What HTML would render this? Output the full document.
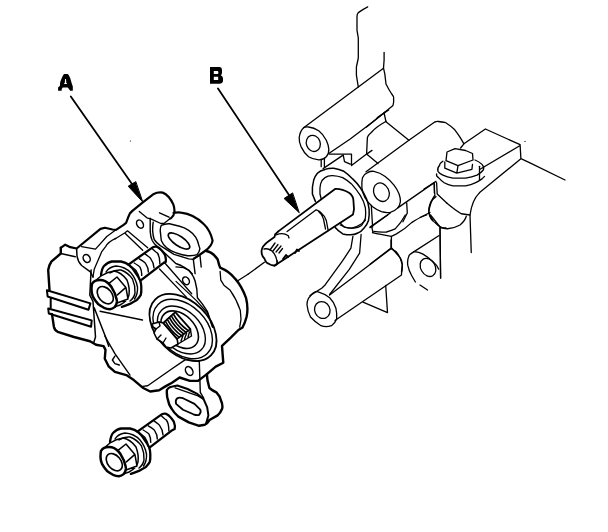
<!DOCTYPE html>
<html><head><meta charset="utf-8">
<style>
html,body{margin:0;padding:0;background:#fff;width:608px;height:532px;overflow:hidden}
svg{display:block}
text{font-family:"Liberation Sans",sans-serif;font-weight:bold}
</style></head>
<body>
<svg width="608" height="532" viewBox="0 0 608 532">
<defs>
<g id="bolt" fill="none" stroke="#000" stroke-linejoin="round" stroke-linecap="round">
  <!-- shank -->
  <path stroke-width="2.3" d="M137.4,431.6 L160.6,415.1 Q163,413 166.4,413.9 Q170.5,416 173.8,421.7 Q175.5,426 174.6,429.1 L171.3,430.8 L149.8,447.3"/>
  <path stroke-width="1.4" d="M160.6,415.1 Q165.5,420 166.4,420 Q169,424 168.8,430.8 M154,420.9 Q159.8,425 159.8,425.8 Q163,430 163,434.9 M148.2,425.8 Q154,429 154.8,430.8 Q157.5,435 157.3,439 M143.2,430 Q148,433 149,434.1 Q151,438 150.7,442.4 M139.1,433.3 Q144,436 144.9,437.4 Q148,442 148.2,446.5"/>
  <!-- washer -->
  <path stroke-width="2.3" d="M110,442 Q111,435 113,433 Q117,429 121,428.5 L130,428.5 Q135,429.5 138,432 Q142,435 144,439 Q147,443 149,447 Q150.5,451 150.3,454 Q150.5,459 149.8,461.9 Q148,465 145.9,466.9 Q142,469 138.9,470.9 Q134,473 130.9,473.9"/>
  <path stroke-width="1.4" d="M115,439 Q118,434 125,433 Q134,433.5 140,440 Q145,446 146.5,454 Q147,461 143.5,466 M119,440 Q124,436.5 130,437 Q137,439.5 141.5,446 Q144.5,453 144,460 Q143,465 139,468"/>
  <!-- hex head -->
  <path stroke-width="1.5" d="M104,448 L110,443 Q116,439 123,438 Q130,439 136,447 Q139,455 138,462 Q137,468 129,472 L123.9,473.9 M118,450.4 L126,444 L134.9,454.4 L126.4,461.9 M134.9,454.4 L137,466 L126,470"/>
  <path stroke-width="2.5" d="M101,450.9 Q102.5,448.5 104,448 Q106,447 109,447 Q112,447 114,448 Q116.5,449.5 118,451 Q120.5,453.5 122,456.9 Q124,460 124.9,463.9 Q126,466.5 125.9,468.9 Q125.5,472 123.9,473.9 Q121.5,476 118.9,476.3 Q116,476 113,474.8 Q110,473 107,470.9 Q104,467.5 102,463.9 Q100.5,460 100.5,456.9 Q100.5,453 101,450.9 Z"/>
  <ellipse stroke-width="1.6" cx="114.3" cy="462.2" rx="9.8" ry="6.6" transform="rotate(50 114.3 462.2)"/>
</g>
</defs>

<!-- labels -->
<path fill="#000" fill-rule="evenodd" d="M64.1,73.9 L67.8,73.9 L68.8,75.3 L70.2,77.9 L70.9,80.5 L72,84.2 L72.8,86.3 L72.8,90.8 L70.2,90.8 L67.8,87.4 L62.8,87.4 L61.7,88.9 L61.7,90.8 L58.1,90.8 L58.1,87.4 L59.9,85.8 L60.2,82.1 L62,77.4 L63.1,75.3 Z M65.1,79 L66,79 L66.3,82.8 L67.2,83.9 L63.8,83.9 L64.8,82.8 Z"/>
<path fill="#000" fill-rule="evenodd" d="M210,67 L220,67 Q222,67.5 222,70 L222,72.5 Q222,74.5 220.8,75.2 Q223,76 223,78.5 L223,81 Q222.5,83.7 219.5,83.7 L210,83.7 Z M213.8,70.9 L217.6,70.9 Q218.4,71.2 218.4,72.4 Q218.4,73.9 217.5,73.9 L213.8,73.9 Z M213.8,76.8 L218.2,76.8 L218.2,80.1 L213.8,80.1 Z"/>

<g fill="none" stroke="#000" stroke-linejoin="round" stroke-linecap="round">
<!-- arrows -->
<path stroke-width="1.8" d="M70.8,96.5 L132,184"/>
<path fill="#000" stroke-width="1" d="M142.6,201.8 L128.2,186.2 L135.5,181.8 Z"/>
<path stroke-width="1.8" d="M218,88.5 L289,195"/>
<path fill="#000" stroke-width="1" d="M299,212.5 L284.1,198.5 L292.3,193.1 Z"/>
<circle cx="130.4" cy="141" r="0.6" fill="#000" stroke="none"/>

<!-- ===== SENSOR (A) ===== -->
<!-- outer silhouette -->
<path stroke-width="2.2" d="M60.8,247.8 L65.2,244.7 L70.3,247.2 L76.6,248.5 L100.5,228.9 L105,227.7 L112.5,229.5 L116,229.8 L123.6,224.8 L126.1,222.9 L128,217.8 L129.9,213.4 L132.4,210.9 L142.5,202.7 L153.8,193.9 Q157.6,192 162.7,192.6 Q169,195 173.4,204.6 Q175.5,211 173.4,215.3 Q171,218.5 170.2,218.5
 M173.5,213 Q177,212 181,212.6 Q193.7,214 203.7,224 Q210,230 212.6,240.4 Q212,246 205,251 L198.7,255.5 L193.7,258.6"/>
<path stroke-width="2.4" d="M206.3,251 Q212.6,252 217.6,259.3 Q219,265 220.1,267.6 Q229,271 235.3,278.9 Q241.6,286 246,297.8 Q248.5,308 246.6,316.7 Q245,323 242.5,327.5 L238.4,330 L230.8,337.6 L222,345.8 L222.6,354 L223.3,362.8 L215.7,366.6 L206.9,374.1 L207.5,380.4 L209.4,388 Q213,391 216.4,392.4 Q220,396 221,400.5 Q223,405 222.2,408.5 Q220.5,413 217.6,415.4 L209.5,420 Q207,424 204.9,424.7 L199.1,425.8 L188.8,422.4 L178.4,416.6 Q174,413 171.5,408.5 Q168.5,404 168.1,400.5 Q166.5,396 166.9,390.1"/>
<path stroke-width="2.4" d="M206.9,374.1 L198,380.9 L189.9,380.9 L179.6,377.5 L172,382.7 L165.4,386.4 L159.1,390.2 L150.2,391.5 L142.7,387.7 L133.8,380.1 L126.3,375.1 L114.9,371.9 L108.6,366.3 L104.8,358.7 L105.5,349.9 L103.6,346.1 L96,344.8 L90,341.25 L74,337 L57.7,331.8 Q54.5,330 53.9,326.7 L52,314.1 M48.2,270 L49.5,290.2 M48.2,270 Q49,265 51.3,261.7 L60.8,253.5 L60.8,247.8"/>
<!-- connector internal -->
<path stroke-width="1.5" d="M60.8,253.5 L75.3,256.7 M76.6,248.5 L77,256 Q78,262 81.6,265.5 L90.4,271.8 L93,277"/>
<path stroke-width="2" d="M46.9,290.2 L90.4,303.4 L88.5,309.7 L47.6,296.5 Z M48.2,308.5 L91.7,320.4 L91.1,326.7 L48.8,313.5 Z M50.7,298.4 L50.7,307.8 M52,314.1 L48.8,313.5"/>
<path stroke-width="1.5" d="M91.1,270 L89.8,295.2 L93,301.5 L95.5,337 L93.75,342.5 M94.2,307.8 L105.6,337 L108.75,346.25"/>
<path stroke-width="1.3" d="M81.6,246.6 L95.5,249.1 L106.8,236.5 L116,229.8 M101.8,251.6 L94.2,269.3 L93,277 M115.7,238.4 Q108,242 105.6,246.6 L101.8,251.6"/>
<ellipse stroke-width="1.5" cx="86.7" cy="258.5" rx="3.3" ry="4.2" transform="rotate(-30 86.7 258.5)"/>
<!-- upper ear & boss internal -->
<path stroke-width="1.3" d="M159.5,212.8 L169,217.2 M139.3,211.5 L146.9,217.8 L151.3,219.1 L160.8,223.5 L163.9,223.5 L170.2,218.5"/>
<ellipse stroke-width="1.5" cx="140" cy="224.1" rx="3.1" ry="4.4" transform="rotate(-30 140 224.1)"/>

<path stroke-width="1.3" d="M114.9,239 L125,232.7 L127.5,230.8 L147.7,247.8 M125,233.3 L142.7,250.3"/>
<!-- big oval ear internals -->




<path stroke-width="1.4" d="M150.2,218.2 L150.2,231.4 Q150.5,237 152.2,240.5 Q154,244 157.3,246.6 L164.4,252.7 L175.8,263.5 Q181,265 184.1,267.2 Q189,270 191.4,273.6 Q194,277 195.1,281 L196.8,289 L197.4,297.8 L202.5,304.1 L207.5,311.7 L212.6,327"/>
<path stroke-width="1.4" d="M153.2,222.2 Q152.5,227 152.7,231.4 Q153,236 154.2,239.5 Q156.5,243 160.3,245.6 L174,254.3 L188.7,258.9 L193.3,259.4 L200.6,254.3 M193.3,259.4 L195.1,273.6 M176,266.9 L183.6,267.6 L188.6,270.1 L192.4,273.9 M200,255.5 L201.2,267"/>
<path stroke-width="1.4" d="M161.3,225.3 Q160,228 160.3,231.4 L161.3,240.5 Q163,244.5 166.4,247.6 Q170.5,251 175.5,252.7 Q181,255 187.7,255.7 Q194,256 196.9,254.7 Q199.5,252 199.9,248.6 L198.9,245.6 Q198,241 195.8,237.4 Q193,233 188.7,230.3 Q184.5,227.5 179.6,226.3 L169.4,223.7 Q165,223.5 161.3,225.3 Z"/>
<ellipse stroke-width="1.6" cx="179" cy="241" rx="12.6" ry="4.8" transform="rotate(34 179 241)"/>
<ellipse stroke-width="1.5" cx="186" cy="280.8" rx="3.1" ry="4.1" transform="rotate(-30 186 280.8)"/>
<path stroke-width="1.3" d="M220.1,271.3 L220.8,280.2 L223.9,285.2 L230.2,290.3 Q236.5,299.1 240.3,310.4 L241,319.3 L239.7,327"/>
<!-- axis line sensor->shaft -->
<path stroke-width="1.3" d="M237.8,280.8 L248,274.3"/>
<!-- diagonal lines on plate -->
<path stroke-width="1.3" d="M164,262 L191.7,293.7 M159.5,269 L186.6,297.4 M176,281.4 L196.2,300.4 L207.5,313 L212.6,327"/>
<path stroke-width="1.3" d="M100,311.25 L142.5,320"/>
<path stroke-width="1.4" d="M104.8,336 L114.9,353.7 L130,375.1 M114.9,356.2 L112.4,360 L114.9,363.7 L119.3,365 M142.7,386.4 L147.7,385.8 L172,368.8 L185.4,359.6 L199.3,361.5 M199.3,361.5 L200.3,392.4 L203.7,398.2"/>
<ellipse stroke-width="1.5" cx="189.2" cy="371" rx="3.4" ry="4.8" transform="rotate(-30 189.2 371)"/>
<!-- lower ear internals -->
<path stroke-width="2" d="M166.9,390.1 Q168,387.5 171.5,386.7 L177.3,385.5 L187.6,389 L196.8,393.6 L203.7,399.3 L207.2,407.4 L208.4,415.4 L206.1,423.5"/>
<path stroke-width="1.3" d="M175,387.8 L198,395.9 L203,399"/>
<path stroke-width="1.8" d="M177.3,398.2 Q175,400 176.1,403.9 L183,409.7 L193.4,414.3 Q197,415.5 199.1,414.9 Q201.5,412 200.3,409.7 L194.5,403.9 L183,398.2 Q179,397 177.3,398.2 Z"/>
<!-- shaft bore rings -->
<ellipse stroke-width="1.8" cx="183" cy="327.5" rx="39.5" ry="26.2" transform="rotate(45 183 327.5)"/>
<ellipse stroke-width="1.4" cx="182.7" cy="329" rx="34.8" ry="23.6" transform="rotate(45 182.7 329)"/>
<ellipse stroke-width="1.4" cx="181.4" cy="330" rx="28.1" ry="19" transform="rotate(45 181.4 330)"/>
<ellipse stroke-width="1.6" cx="179.7" cy="329.7" rx="22" ry="14.8" transform="rotate(45 179.7 329.7)"/>
<!-- spline shaft end -->
<path stroke-width="1.6" fill="#fff" d="M152,324 L159,322 L163.3,322.9 L177.1,338.9 L178,344 L171,348 L166,347 L163,343 L157,339 L154,333 L156,329 L153,327 Z"/>
<path stroke-width="1.4" d="M159,322 L160,326 L156,329 M163,343 L166,338 M157,339 L161,335"/>
<path stroke-width="1.8" fill="#fff" d="M163.3,322.9 L175.3,312.2 L190.4,329.1 L177.1,338.9 Z"/>
<path stroke-width="1.6" d="M165.3,321.1 Q170.5,330.8 179.3,337.3 M167.3,319.3 Q172.6,329.1 181.5,335.6 M169.3,317.5 Q174.7,327.4 183.8,334.0 M171.3,315.8 Q176.8,325.7 186.0,332.4 M173.3,314.0 Q178.9,324.0 188.2,330.7"/>
<path stroke-width="1.4" d="M178,344 L191.5,336 L190.4,329.1 M181,341 L183,335.5 M184.5,339 L186.5,333.5 M188,337 L189.5,332"/>
<!-- bolt 1 (on sensor) -->
<use href="#bolt" transform="translate(-9,-167)"/>
</g>
<!-- bolt 2 -->
<use href="#bolt"/>

<g fill="none" stroke="#000" stroke-linejoin="round" stroke-linecap="round" stroke-width="1.3">
<!-- ===== SHAFT B ===== -->
<path stroke-width="1.8" d="M278.3,231.4 L335.1,189 Q341.4,188.5 349,192.7 Q353.4,196 353.4,200.3 L354,209.1 Q353.5,212 353,214.5 L274.4,265.7"/>
<path stroke-width="1.8" d="M278.3,231.4 L275.1,234.5 L274.5,237.1 L268.2,241.5 Q262,246 261.5,251 Q261.5,256 264.4,258.5 Q266,263 268.2,263.5 Q272,266 275.1,265.4 Q278,264 277,261"/>
<path d="M316.2,209.8 L287.1,231.5 M276,235 Q283,232 288.3,235.8 L289,238 M316.2,209.8 Q320,211 321.2,212.9 Q325,216 326.3,220.5 L328.2,230.6 M318.5,211.5 Q322,214 323.5,219 L325.5,229"/>
<path d="M264,249 Q268,248 272,251 Q276,255 277,261"/>
<path d="M270,250 L275,243 M273,251 L278,244.5 M276,252 L281,246 M279,253 L282.5,248.5"/>
<path stroke-width="1.8" d="M283,259 L286,255 L288,257 M295,253 L297,249.5 L299,251"/>
<path d="M248,274.3 L264.4,262.3"/>
<!-- seal ring -->
<path stroke-width="1.5" d="M315.5,201.6 L312.4,194 Q312,186 313.7,180.1 Q315,176 317.4,173.2 Q320,170.5 325,169.4 Q329,168 333.8,168.2 Q339,169 343.9,171.3 Q348,174 352.7,178.9 Q357,183 360.3,187.7 Q364,193 366.6,199 Q368.5,204 369.1,209.1 Q369.5,215 368.5,220.5 Q367,225 364.1,228 Q361,232 357.8,233 Q352.9,236 342.8,233.9 Q338,231 335.2,227.6"/>
<path d="M321.2,199 L320,194 Q319.5,188 320.6,183.9 Q322,179.5 325,177.6 Q328,175.5 332.6,175.7 Q338,176 342.7,177.6 Q347,180 351.5,183.9 Q356,189 360.3,195.3 Q364,201 365.4,207.9 Q366,213 365.4,218 Q364,222 361.6,225.5 Q358,228 354,228 Q349,228.5 343.9,226.8 L340.1,223"/>
<path d="M340.3,225 Q346,228.5 351.6,228.2 Q357,227 361.7,223.8 L365.5,220"/>
<!-- ===== HOUSING ===== -->
<path d="M367.7,6.9 Q362.7,9.5 358.3,12.6 Q357,14 357,16.4 L357,30.3 L358.3,37.8 L358.3,58 L356.4,67 L356.4,75.1 L358.3,87.1"/>
<path d="M384.1,52.3 L384.1,60 L383.5,68.2 L384.8,73.9 L386,84 Q389,90 391.7,94 Q394,97 393.6,97.8 Q394,102 393,105.4 L385.4,111.7 L366.5,127"/>
<!-- boss 1 -->
<path d="M303.6,127.7 L358.3,87.1 L383.5,68.2"/>
<path d="M328.8,153.5 L350.2,139 L372,122.6 L385.4,111.7"/>
<path d="M308.6,127 Q314,127.5 318.7,130.8 Q323,134 326.3,140.3 Q328.5,145 328.8,149.1 Q329,154 326.3,156.7 Q323,160 318.7,159.8 Q313,159.5 308.6,156.7 Q304,153 301,146.6 Q299,142 299.2,137.7 Q300,131 303.6,127.7 Q306,126.5 308.6,127 Z"/>
<ellipse cx="313.3" cy="143.4" rx="6.9" ry="8.2" transform="rotate(-20 313.3 143.4)"/>
<path d="M321.2,159.8 L321.2,166.7 M324.4,158.5 L324.4,166.5 M329.4,154.1 L351.5,154.1 L351.5,165.5 M343.3,155.4 L344.5,161.7 L350.2,164.2 M351.5,165.5 L366.6,154.1 L372,150.4"/>
<path d="M323.1,168.6 L342.7,155.4"/>
<path d="M384.1,113 L386,121.8 L408.9,140.3 M377.3,117.6 L388.7,110"/>
<path d="M386.2,121.3 Q376,127 371,132.7 Q367,136 367.3,139 L366.6,154.1 L378,163.6"/>
<!-- boss 2 -->
<path d="M366,171.8 L408.9,140.3 L434.7,122 Q438.3,121 438.3,121.5 Q446.5,122.5 446.5,123.2 Q451,126 454.8,129.8 Q458,134 460.6,138.1 L463.9,143.8"/>
<path d="M397.8,207.9 L436,181.4"/>
<path d="M373.9,171.3 Q380,172.5 385.2,176.4 Q390,180 394,185.2 Q397,189 399.1,194 Q400.5,198 400.4,201.6 Q400,205 397.8,207.9 Q395,211 390.3,212.3 Q386,213 381.4,211.7 Q377,210 372.6,206.7 Q368,203 365,197.8 Q362.5,193 361.9,187.7 Q361.5,182 362.5,177.7 Q364,174 367.6,172.6 Q370,171 373.9,171.3 Z"/>
<ellipse cx="381.4" cy="192.2" rx="7.5" ry="9.6" transform="rotate(-25 381.4 192.2)"/>
<path d="M406.7,202.9 L407.3,213 L402.9,221.8"/>
<path d="M371.3,205.4 L372.6,227 M370,227 L390.3,213 M434.4,184 L434.4,193"/>
<path d="M436,196.6 Q431,200 430,204 Q428.5,208 428.7,211.7 Q430,217 433,220.5"/>
<!-- block -->
<path d="M460.6,148 L463.9,143.8 L485.4,129 L520.1,144.7 L520.9,158.7 L530,162.9 L565,180 M520.1,145.5 L479.6,169.5 M520.9,158.7 L479.6,192.6"/>
<circle cx="525" cy="141.4" r="0.6" fill="#000" stroke="none"/>
<!-- nut -->
<path d="M447,152 L455,148.6 L465.6,150.5 L472.5,153.5 L473,160 L458,165.6 L446,160.6 Z"/>
<path d="M444.8,161.9 L444.8,168.2 L456.8,173.2 L471.9,169.4 L472.5,164.4 M456.8,173.2 L458,165.6"/>
<path d="M442.9,161.2 Q439,164 439.8,165 Q437,168 437.9,171.3 Q439,173.5 442.9,175.1 Q447,177 453,178.2 L465.6,178.2 Q472,177 477,175.1 Q481,173 483.3,170 Q484.5,167 482,164.4 Q479,161.5 475,160"/>
<path d="M436.6,173.8 Q436,176 438.5,177.6 Q441,180.5 444.2,182.7 Q448,185 453,185.8 L465.6,185.8 Q471,185 475.7,182.7 Q479,181 482,178.9 L484.5,176.4"/>
<path d="M479.5,166.3 L479.5,180"/>

<path d="M434,182.7 L434.7,194 M436.6,182.7 L437.2,194 L446.7,203"/>
<path d="M424,189 L434,182.7"/>
<!-- round under nut -->
<path d="M435,195 Q430,202 428.75,212.5 Q430,220 435,222.5 Q441,229 447.5,228.75 Q455,228 460,225 Q465,221 466.25,216.25"/>
<path d="M446.7,203 Q455,210 461.25,213.75 L470,215"/>
<path d="M479.6,192.6 Q472,200 470,215 L471.25,252.5"/>
<path d="M440,227.5 L440.6,278"/>
<path d="M420,217.5 L430,212.5"/>
<!-- legs and lower -->
<path d="M352.9,236.4 L350.9,248.2 L342.7,260.7 L325.3,284.7 L322,288 L310,295.6 M361.1,234.5 L359.6,253.1 L349.3,269.4 L329.6,294.5"/>
<path d="M372.5,232.7 Q380,234.5 391.4,236.4 Q396.5,233.9 396.5,233.9 Q405,229 411.6,222.6 Q420,217 426.7,215"/>
<path d="M373.8,231.4 Q380,232.5 386.4,232 Q392,230.5 395.2,228.9 Q401,223 405.3,215"/>
<path d="M371.9,227.6 L373,232.6 M370,227.6 L387.7,215"/>
<path d="M391.4,236.4 L391.4,247.8 L370,264.2 M391.4,247.8 L400.3,257.9 Q402.5,262 402.2,265.4 L401.5,271.7"/>
<!-- boss 3 -->
<path d="M317.5,291.6 Q324,293.5 329.7,297.7 Q334,302 335.9,308.2 Q337,313 336.7,318.7 Q335,323.5 331.5,325.7 Q326,327.5 321,325.7 Q315,322 310.5,317 Q307.5,311 307,304.7 Q307,299 310.5,296 Q313,291.5 317.5,291.6 Z"/>
<ellipse cx="322.3" cy="310" rx="7.6" ry="8.6" transform="rotate(-25 322.3 310)"/>
<path d="M329.6,295.1 L391,248.7 Q396,251 398,254 Q401,259 402.3,264.5 Q402.5,270 401.5,273.2 L401.5,275 L335,320.5"/>
<path d="M391,240 L391,248.7"/>
<path d="M363,302.1 L387.5,312.6 L385.7,285.5"/>

<!-- boss 4 -->
<path d="M414.1,251.6 L438.7,235.8 M440,227.6 L440.6,278 M430.5,215 Q436,222 440.6,227.6 L446,228"/>
<path d="M414.1,251.6 Q409,255 409.1,255.4 Q407,260 407.8,265.4 Q409,271 411.6,275.5 L415.4,282"/>
<path d="M414.1,251.6 Q419,252 423,254.1 Q428,257 433,261.7 Q437,265 438.7,269.2"/>
<ellipse cx="428" cy="267.4" rx="7.2" ry="9.6" transform="rotate(-30 428 267.4)"/>
<path d="M420,285 L427.5,290"/>
</g>
</svg>
</body></html>
